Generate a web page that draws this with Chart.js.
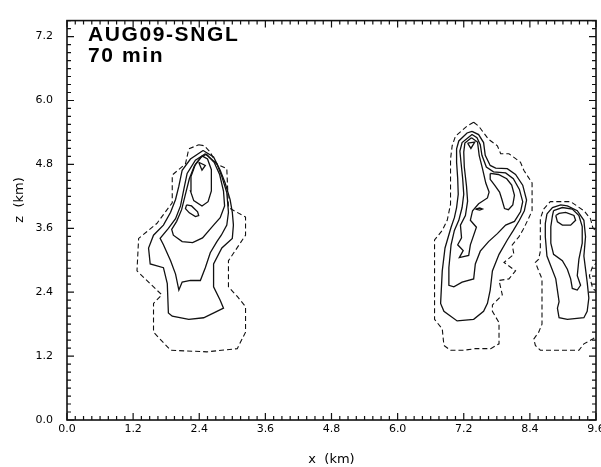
<!DOCTYPE html>
<html>
<head>
<meta charset="utf-8">
<script src="https://cdn.jsdelivr.net/npm/chart.js@4.4.1/dist/chart.umd.min.js"></script>
<style>
  html, body { margin: 0; padding: 0; background: #fff; overflow: hidden; }
  #wrap { width: 601px; height: 467px; overflow: hidden; }
</style>
</head>
<body>
<div id="wrap"><canvas id="contourChart" width="620" height="467"></canvas></div>
<script>
// axes (km)
const xTicks = [0, 1.2, 2.4, 3.6, 4.8, 6.0, 7.2, 8.4, 9.6];
const zTicks = [0, 1.2, 2.4, 3.6, 4.8, 6.0, 7.2];
const minorStep = 0.15;
const xRange = [0, 9.6];
const zRange = [0, 7.5];
const titleLines = ['AUG09-SNGL', '70 min'];

// contours as [x, z] in km; dashed = lowest level
const cellA_dashed = [[2.39,5.17],[2.49,5.15],[2.60,5.03],[2.71,4.81],[2.90,4.72],[2.93,3.99],[3.24,3.81],[3.24,3.47],[2.93,2.99],[2.93,2.50],[3.09,2.32],[3.24,2.13],[3.24,1.65],[3.09,1.34],[2.54,1.28],[1.88,1.31],[1.57,1.65],[1.57,2.19],[1.72,2.35],[1.27,2.80],[1.30,3.41],[1.63,3.69],[1.91,4.08],[1.91,4.60],[2.15,4.81],[2.21,5.09],[2.39,5.17]];
const cellA_1 = [[2.47,5.06],[2.66,4.94],[2.78,4.69],[2.87,4.45],[2.96,4.14],[3.00,3.90],[3.02,3.66],[3.00,3.41],[2.81,3.23],[2.66,2.93],[2.66,2.50],[2.78,2.25],[2.84,2.10],[2.72,2.04],[2.48,1.92],[2.21,1.89],[1.91,1.95],[1.84,2.01],[1.82,2.56],[1.75,2.86],[1.51,2.93],[1.48,3.23],[1.57,3.47],[1.75,3.66],[1.88,3.90],[1.97,4.14],[2.03,4.39],[2.09,4.69],[2.24,4.90],[2.47,5.06]];
const cellA_2 = [[2.51,5.00],[2.54,4.97],[2.72,4.81],[2.81,4.57],[2.90,4.27],[2.93,3.90],[2.90,3.66],[2.80,3.47],[2.72,3.35],[2.60,3.14],[2.51,2.86],[2.42,2.62],[2.24,2.62],[2.09,2.59],[2.03,2.44],[1.97,2.74],[1.88,2.99],[1.75,3.29],[1.69,3.41],[1.84,3.60],[1.97,3.78],[2.06,4.02],[2.12,4.33],[2.18,4.63],[2.33,4.88],[2.51,5.00]];
const cellA_3 = [[2.53,4.99],[2.67,4.84],[2.77,4.61],[2.84,4.30],[2.86,4.02],[2.78,3.80],[2.66,3.66],[2.46,3.42],[2.28,3.33],[2.09,3.35],[1.93,3.47],[1.90,3.58],[1.99,3.73],[2.08,3.95],[2.15,4.24],[2.22,4.53],[2.31,4.77],[2.44,4.94],[2.53,4.99]];
const cellA_4 = [[2.45,4.96],[2.55,4.90],[2.62,4.70],[2.62,4.30],[2.56,4.10],[2.45,4.02],[2.30,4.12],[2.24,4.30],[2.25,4.57],[2.33,4.80],[2.45,4.96]];
const cellA_5 = [[2.39,4.84],[2.51,4.78],[2.45,4.69],[2.39,4.84]];
const cellA_6 = [[2.17,4.04],[2.26,4.02],[2.37,3.91],[2.39,3.84],[2.33,3.82],[2.22,3.89],[2.15,3.97],[2.17,4.04]];

const cellB_dashed = [[7.38,5.59],[7.47,5.52],[7.65,5.27],[7.81,5.15],[7.87,5.00],[8.02,5.00],[8.23,4.84],[8.29,4.69],[8.44,4.45],[8.44,3.93],[8.36,3.75],[8.28,3.58],[8.20,3.44],[8.08,3.29],[8.11,3.11],[7.93,2.96],[8.14,2.80],[8.02,2.65],[7.84,2.62],[7.90,2.35],[7.72,2.16],[7.72,2.04],[7.84,1.83],[7.84,1.43],[7.69,1.34],[7.41,1.34],[7.20,1.31],[6.96,1.31],[6.84,1.40],[6.81,1.71],[6.67,1.89],[6.67,3.38],[6.81,3.56],[6.90,3.75],[6.96,4.05],[6.96,4.90],[6.99,5.15],[7.05,5.33],[7.26,5.52],[7.38,5.59]];
const cellB_1 = [[7.35,5.42],[7.47,5.36],[7.56,5.21],[7.59,4.97],[7.68,4.78],[7.78,4.73],[7.99,4.72],[8.14,4.61],[8.27,4.41],[8.34,4.13],[8.30,3.93],[8.21,3.75],[8.10,3.56],[7.99,3.38],[7.84,3.11],[7.72,2.80],[7.68,2.44],[7.63,2.19],[7.56,2.04],[7.38,1.89],[7.08,1.86],[6.84,2.04],[6.78,2.19],[6.81,2.80],[6.86,3.23],[6.97,3.62],[7.03,3.80],[7.07,3.99],[7.10,4.24],[7.09,4.54],[7.07,4.84],[7.07,5.09],[7.11,5.24],[7.26,5.39],[7.35,5.42]];
const cellB_2 = [[7.35,5.36],[7.44,5.30],[7.50,5.17],[7.53,4.97],[7.61,4.75],[7.74,4.66],[7.96,4.64],[8.10,4.53],[8.21,4.33],[8.27,4.10],[8.23,3.91],[8.12,3.73],[7.96,3.66],[7.81,3.50],[7.65,3.35],[7.50,3.17],[7.41,2.93],[7.38,2.65],[7.17,2.59],[7.02,2.50],[6.93,2.53],[6.93,2.86],[6.97,3.29],[7.03,3.56],[7.11,3.75],[7.17,3.99],[7.20,4.24],[7.18,4.54],[7.15,4.84],[7.13,5.05],[7.17,5.21],[7.35,5.36]];
const cellB_3 = [[7.34,5.30],[7.45,5.22],[7.48,4.97],[7.54,4.72],[7.60,4.45],[7.66,4.28],[7.63,4.17],[7.47,4.06],[7.36,3.93],[7.32,3.75],[7.43,3.62],[7.32,3.29],[7.29,3.09],[7.12,3.05],[7.19,3.18],[7.09,3.29],[7.16,3.42],[7.14,3.66],[7.23,3.84],[7.27,4.11],[7.25,4.39],[7.21,4.75],[7.20,5.03],[7.22,5.20],[7.34,5.30]];
const cellB_4 = [[7.68,4.63],[7.83,4.61],[7.98,4.53],[8.07,4.41],[8.12,4.22],[8.09,4.04],[8.01,3.95],[7.94,3.97],[7.89,4.15],[7.85,4.28],[7.76,4.41],[7.68,4.52],[7.68,4.63]];
const cellB_5 = [[7.27,5.20],[7.40,5.22],[7.33,5.10],[7.27,5.20]];
const cellB_6 = [[7.41,3.96],[7.49,3.98],[7.54,3.96],[7.49,3.94],[7.41,3.96]];

const cellC_dashed = [[8.65,3.96],[8.77,4.10],[9.14,4.10],[9.38,3.93],[9.50,3.78],[9.54,3.62],[9.70,3.38],[9.70,3.02],[9.54,2.89],[9.48,2.71],[9.54,2.47],[9.70,2.34],[9.70,1.65],[9.54,1.52],[9.38,1.43],[9.29,1.31],[8.96,1.31],[8.59,1.31],[8.50,1.40],[8.47,1.52],[8.56,1.65],[8.62,1.80],[8.62,2.65],[8.56,2.80],[8.50,2.96],[8.56,3.02],[8.59,3.17],[8.59,3.78],[8.65,3.96]];
const cellC_1 = [[8.71,3.87],[8.81,3.99],[8.96,4.04],[9.08,4.02],[9.26,3.93],[9.38,3.75],[9.41,3.44],[9.38,3.08],[9.44,2.59],[9.47,2.29],[9.44,2.04],[9.38,1.92],[9.08,1.89],[8.93,1.92],[8.90,2.10],[8.93,2.22],[8.87,2.65],[8.71,3.08],[8.68,3.44],[8.68,3.69],[8.71,3.87]];
const cellC_2 = [[8.83,3.93],[8.99,3.99],[9.17,3.96],[9.29,3.84],[9.35,3.63],[9.35,3.32],[9.29,3.02],[9.26,2.71],[9.32,2.53],[9.26,2.44],[9.17,2.47],[9.14,2.65],[9.08,2.83],[8.99,2.99],[8.83,3.11],[8.78,3.32],[8.78,3.63],[8.81,3.84],[8.83,3.93]];
const cellC_3 = [[8.87,3.84],[8.90,3.72],[8.99,3.66],[9.14,3.66],[9.23,3.75],[9.20,3.84],[9.05,3.90],[8.93,3.88],[8.87,3.84]];

const dashedLines = [cellA_dashed, cellB_dashed, cellC_dashed];
const solidLines = [cellA_1, cellA_2, cellA_3, cellA_4, cellA_5, cellA_6,
  cellB_1, cellB_2, cellB_3, cellB_4, cellB_5, cellB_6,
  cellC_1, cellC_2, cellC_3];

const INK = '#111';

const contour = (pts, dashed) => ({
  data: pts.map(([x, z]) => ({ x, y: z })),
  showLine: true,
  borderColor: INK,
  borderWidth: dashed ? 1.1 : 1.3,
  borderDash: dashed ? [5, 3] : [],
  pointRadius: 0,
  tension: 0,
  fill: false
});

const isMajor = (v) => Math.abs(v / 1.2 - Math.round(v / 1.2)) < 1e-6;

// frame with inward ticks on all four sides, plus the in-plot labels
const framePlugin = {
  id: 'frame',
  afterDraw(chart) {
    const { ctx, chartArea: a, scales: { x, y } } = chart;
    ctx.save();
    ctx.strokeStyle = INK;
    ctx.lineWidth = 1.6;
    ctx.strokeRect(a.left, a.top, a.right - a.left, a.bottom - a.top);

    ctx.lineWidth = 1.2;
    ctx.beginPath();
    for (let i = 0; i * minorStep <= xRange[1] + 1e-9; i++) {
      const v = i * minorStep;
      const px = x.getPixelForValue(v);
      const len = isMajor(v) ? 7 : 4;
      ctx.moveTo(px, a.bottom); ctx.lineTo(px, a.bottom - len);
      ctx.moveTo(px, a.top); ctx.lineTo(px, a.top + len);
    }
    for (let i = 0; i * minorStep <= zRange[1] + 1e-9; i++) {
      const v = i * minorStep;
      const py = y.getPixelForValue(v);
      const len = isMajor(v) ? 7 : 4;
      ctx.moveTo(a.left, py); ctx.lineTo(a.left + len, py);
      ctx.moveTo(a.right, py); ctx.lineTo(a.right - len, py);
    }
    ctx.stroke();

    ctx.fillStyle = '#000';
    ctx.font = 'bold 21px "Liberation Sans", Arial, sans-serif';
    ctx.letterSpacing = '1.6px';
    ctx.textBaseline = 'alphabetic';
    ctx.fillText(titleLines[0], 88, 41);
    ctx.fillText(titleLines[1], 88, 62);

    ctx.letterSpacing = '0px';
    ctx.font = '13px "DejaVu Sans", sans-serif';
    ctx.translate(20, 200);
    ctx.rotate(-Math.PI / 2);
    ctx.textAlign = 'center';
    ctx.textBaseline = 'middle';
    ctx.fillText('z  (km)', 0, 0);
    ctx.restore();
  }
};

const tickFont = { family: 'DejaVu Sans', size: 11 };

new Chart(document.getElementById('contourChart'), {
  type: 'scatter',
  data: {
    datasets: [
      ...dashedLines.map(p => contour(p, true)),
      ...solidLines.map(p => contour(p, false))
    ]
  },
  options: {
    responsive: false,
    animation: false,
    layout: { padding: { top: 11, right: 24, left: 0, bottom: 0 } },
    plugins: { legend: { display: false }, tooltip: { enabled: false } },
    scales: {
      x: {
        type: 'linear',
        min: xRange[0],
        max: xRange[1],
        grid: { display: false, drawTicks: false },
        border: { display: false },
        afterBuildTicks: (s) => { s.ticks = xTicks.map(value => ({ value })); },
        afterFit: (s) => { s.height = 47; },
        ticks: {
          padding: 3, color: '#000', font: tickFont,
          maxRotation: 0, autoSkip: false,
          callback: (v) => Number(v).toFixed(1)
        },
        title: {
          display: true, text: 'x  (km)', color: '#000',
          font: { family: 'DejaVu Sans', size: 13 },
          padding: { top: 0, bottom: 0 }
        }
      },
      y: {
        type: 'linear',
        min: zRange[0],
        max: zRange[1],
        grid: { display: false, drawTicks: false },
        border: { display: false },
        afterBuildTicks: (s) => { s.ticks = zTicks.map(value => ({ value })); },
        afterFit: (s) => { s.width = 67; },
        ticks: {
          padding: 14, color: '#000', font: tickFont,
          autoSkip: false,
          callback: (v) => Number(v).toFixed(1)
        }
      }
    }
  },
  plugins: [framePlugin]
});
</script>
</body>
</html>
